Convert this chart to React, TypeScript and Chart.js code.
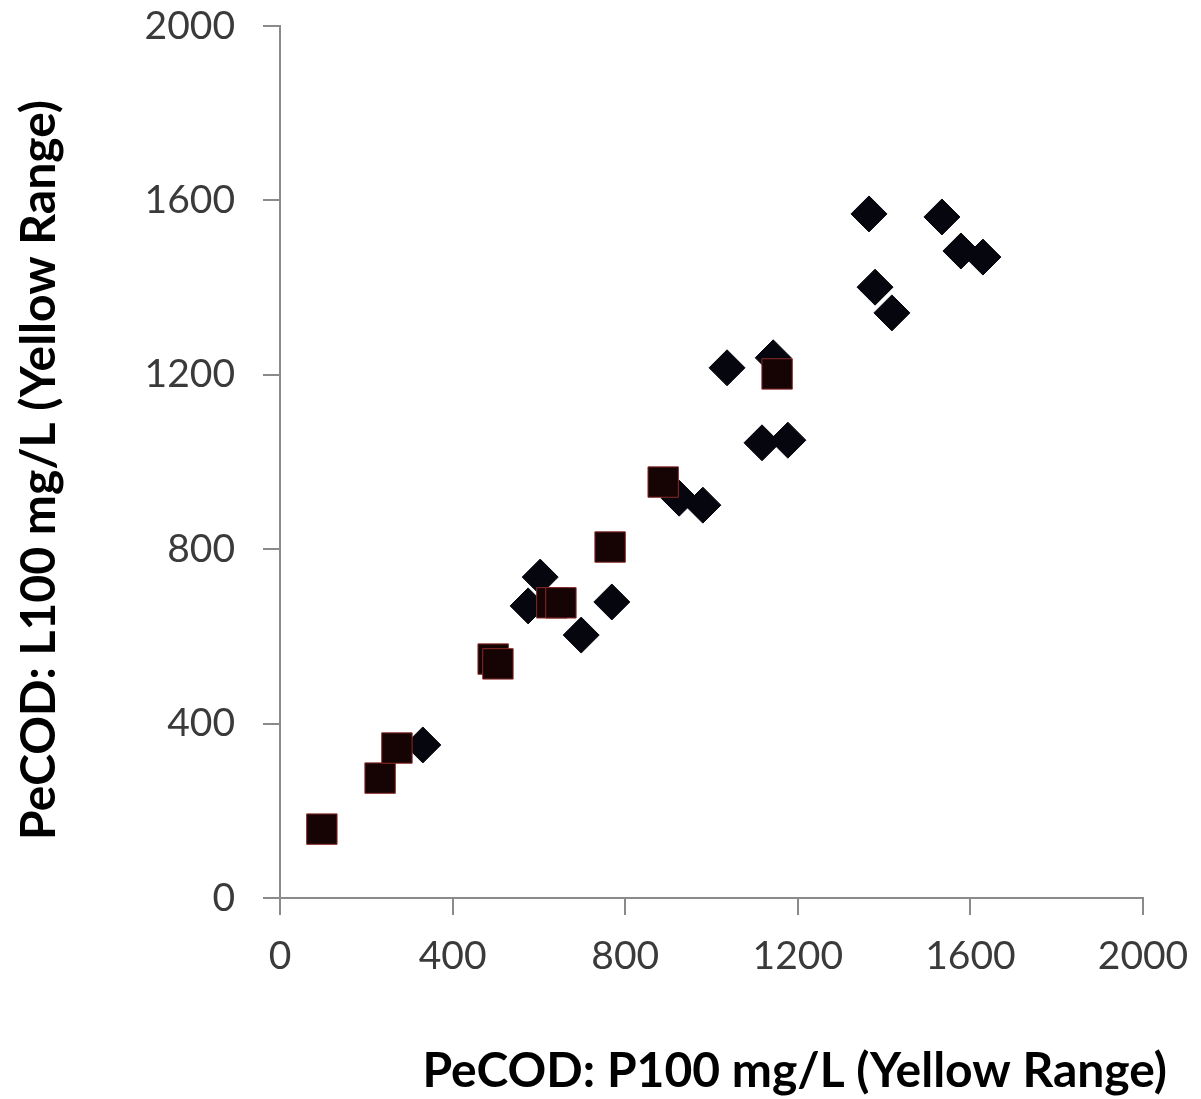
import React, { useEffect, useRef } from "react";
import { Chart, registerables } from "chart.js";

Chart.register(...registerables);

const xTitle = "PeCOD: P100 mg/L (Yellow Range)";
const yTitle = "PeCOD: L100 mg/L (Yellow Range)";
const axisMin = 0;
const axisMax = 2000;
const axisStep = 400;

// Series A (diamonds)
const diamondX = [331, 603, 575, 769, 698, 925, 980, 1036, 1143, 1117, 1177, 1365, 1534, 1578, 1629, 1379, 1418];
const diamondY = [351, 736, 670, 679, 603, 917, 901, 1216, 1239, 1044, 1050, 1569, 1562, 1484, 1470, 1401, 1342];

// Series B (squares)
const squareX = [97, 232, 271, 494, 505, 630, 651, 765, 888, 1152];
const squareY = [158, 275, 344, 548, 537, 677, 677, 805, 954, 1202];

const W = 1201;
const H = 1099;

const titlePlugin = {
  id: "axisTitles",
  afterDraw(chart: any) {
    const ctx = chart.ctx;
    ctx.save();
    ctx.fillStyle = "#000000";
    ctx.font = "bold 48px Lato";
    ctx.textBaseline = "middle";
    ctx.textAlign = "right";
    ctx.fillText(xTitle, 1167, 1072);
    ctx.translate(40, 470);
    ctx.rotate(-Math.PI / 2);
    ctx.textAlign = "center";
    ctx.fillText(yTitle, 0, 0);
    ctx.restore();
  },
};

export default function App() {
  const ref = useRef<HTMLCanvasElement | null>(null);
  useEffect(() => {
    if (!ref.current) return;
    const sq = squareX.map((x, i) => ({ x, y: squareY[i] }));
    const dm = diamondX.map((x, i) => ({ x, y: diamondY[i] }));
    const tickFont = { family: "Lato", size: 39 };
    const fmt = (v: any) => String(v);
    const chart = new Chart(ref.current, {
      type: "scatter",
      data: {
        datasets: [
          {
            label: "Squares",
            data: sq,
            pointStyle: "rect",
            pointRadius: 21.5,
            pointHoverRadius: 21.5,
            backgroundColor: "#160404",
            borderColor: "#8a2a2a",
            borderWidth: 1,
          },
          {
            label: "Diamonds",
            data: dm,
            pointStyle: "rectRot",
            pointRadius: 18,
            pointHoverRadius: 18,
            backgroundColor: "#06060f",
            borderColor: "#06060f",
            borderWidth: 1,
          },
        ],
      },
      options: {
        responsive: false,
        animation: false,
        events: [],
        layout: { padding: { left: 0, top: 26, right: W - 1143, bottom: 0 } },
        plugins: { legend: { display: false }, tooltip: { enabled: false } },
        scales: {
          x: {
            type: "linear",
            min: axisMin,
            max: axisMax,
            afterFit: (s: any) => {
              s.height = H - 898;
              s.paddingLeft = 0;
              s.paddingRight = 0;
            },
            ticks: { stepSize: axisStep, color: "#3a3a3a", font: tickFont, padding: 18, maxRotation: 0, callback: fmt },
            grid: { drawOnChartArea: false, drawTicks: true, tickLength: 17, color: "#8a8a8a", lineWidth: 2 },
            border: { display: true, color: "#8a8a8a", width: 2 },
          },
          y: {
            type: "linear",
            min: axisMin,
            max: axisMax,
            afterFit: (s: any) => {
              s.width = 280;
              s.paddingTop = 0;
              s.paddingBottom = 0;
            },
            ticks: { stepSize: axisStep, color: "#3a3a3a", font: tickFont, padding: 28, callback: fmt },
            grid: { drawOnChartArea: false, drawTicks: true, tickLength: 17, color: "#8a8a8a", lineWidth: 2 },
            border: { display: true, color: "#8a8a8a", width: 2 },
          },
        },
      },
      plugins: [titlePlugin],
    });
    return () => chart.destroy();
  }, []);
  return (
    <div style={{ position: "absolute", left: 0, top: 0, width: W, height: H, background: "#ffffff" }}>
      <canvas ref={ref} width={W} height={H} style={{ width: W, height: H, display: "block" }} />
    </div>
  );
}
